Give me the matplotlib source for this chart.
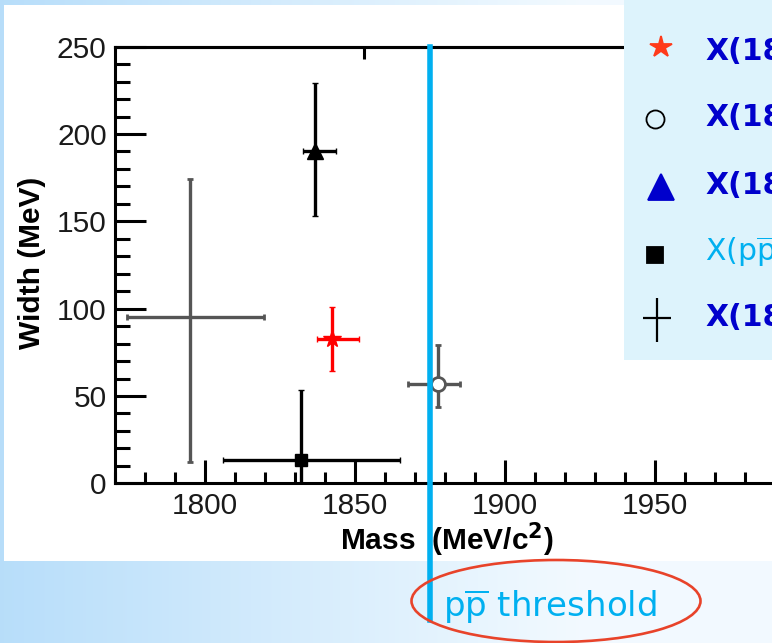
import numpy as np
import matplotlib.pyplot as plt
from matplotlib.patches import Ellipse, Rectangle
from matplotlib.ticker import MultipleLocator, NullLocator

plt.rcParams['font.family'] = ['Liberation Sans', 'DejaVu Sans']
plt.rcParams['mathtext.fontset'] = 'dejavusans'

W, H = 772, 643

# resonance measurements (MeV)
labels = ['X(1840)', 'X(1870)', 'X(1835)', r'X(p$\overline{\mathrm{p}}$)', 'X(1810)']
mass = [1842.2, 1877.5, 1836.5, 1832.0, 1795.0]
mass_lo = [5.0, 10.0, 4.0, 26.0, 21.0]
mass_hi = [9.0, 7.5, 7.0, 33.0, 24.5]
width = [82.5, 57.0, 190.0, 13.3, 95.0]
width_lo = [18.0, 13.5, 37.0, 13.3, 83.0]
width_hi = [18.5, 22.0, 39.0, 40.0, 79.0]
threshold = 1875.0

# styles
pt_color = ['red', '#555555', 'black', 'black', '#555555']
pt_face = ['red', 'white', 'black', 'black', '#555555']
pt_marker = ['*', 'o', '^', 's', '+']
pt_size = [13, 10, 12, 9, 10]

leg_marker = ['*', 'o', '^', 's']
leg_mcolor = ['#FF3A1A', 'none', '#0000CC', 'black']
leg_medge = ['#FF3A1A', 'black', '#0000CC', 'black']
leg_msize = [16, 13, 18.5, 12]
leg_mx = [661, 655, 661, 655]
leg_my = [47, 119, 187, 255]
leg_ty = [51, 117, 185, 252, 318]
leg_tcolor = ['#0000CC', '#0000CC', '#0000CC', '#00B0F0', '#0000CC']
leg_weight = ['bold', 'bold', 'bold', 'normal', 'bold']

fig = plt.figure(figsize=(W / 100, H / 100), dpi=100)

# slide background
bg = fig.add_axes([0, 0, 1, 1], zorder=-10)
t = np.clip(np.linspace(0, 1, W) / 0.75, 0, 1)[:, None]
left = np.array([0.72, 0.87, 0.98])
right = np.array([0.95, 0.98, 1.0])
row = left * (1 - t) + right * t
bg.imshow(np.tile(row[None, :, :], (H, 1, 1)), extent=[0, W, H, 0], aspect='auto')
bg.add_patch(Rectangle((4, 5), W - 4, 556, facecolor='white', edgecolor='none'))
bg.set_xlim(0, W)
bg.set_ylim(H, 0)
bg.axis('off')

# main plot
ax = fig.add_axes([115 / W, (H - 483.3) / H, 660 / W, 436.6 / H], zorder=1)
for i in range(len(mass)):
    ax.errorbar(mass[i], width[i],
                xerr=[[mass_lo[i]], [mass_hi[i]]],
                yerr=[[width_lo[i]], [width_hi[i]]],
                fmt=pt_marker[i], ms=pt_size[i], mfc=pt_face[i], mec=pt_color[i],
                mew=2 if pt_marker[i] in 'o+' else 1,
                ecolor=pt_color[i], elinewidth=2.4, capsize=2, capthick=2.4)

ax.axvline(threshold, ymin=-0.313, ymax=1, color='#00B0F0', lw=4, clip_on=False, zorder=3)

ax.set_xlim(1770, 1990)
ax.set_ylim(0, 250)
ax.xaxis.set_major_locator(MultipleLocator(50))
ax.xaxis.set_minor_locator(MultipleLocator(10))
ax.yaxis.set_major_locator(MultipleLocator(50))
ax.yaxis.set_minor_locator(MultipleLocator(10))
ax.tick_params(which='both', direction='in', width=2.2, top=False, right=False,
               labelsize=21.5, labelcolor='#1a1a1a', pad=6)
ax.tick_params(axis='y', which='major', length=22)
ax.tick_params(axis='y', which='minor', length=11)
ax.tick_params(axis='x', which='major', length=16.5)
ax.tick_params(axis='x', which='minor', length=8)
for s in ['left', 'top', 'bottom']:
    ax.spines[s].set_linewidth(2.2)
ax.spines['right'].set_visible(False)

sec = ax.secondary_xaxis('top')
sec.set_xticks([1853])
sec.xaxis.set_minor_locator(NullLocator())
sec.tick_params(direction='in', length=8.5, width=2.2, labeltop=False)
sec.spines['top'].set_linewidth(2.2)

ax.set_xlabel(r'Mass  (MeV/c$^{\mathbf{2}}$)', fontsize=21.5, fontweight='bold')
ax.xaxis.label.set_va('baseline')
ax.xaxis.set_label_coords(332 / 660, -0.1528)
ax.set_ylabel('Width (MeV)', fontsize=21.5, fontweight='bold')
ax.yaxis.set_label_coords(-69 / 660, 0.506)

# legend panel
lax = fig.add_axes([624 / W, 1 - 360 / H, 148 / W, 360 / H], zorder=5)
lax.set_xlim(624, 772)
lax.set_ylim(360, 0)
lax.set_facecolor('#DDF3FC')
lax.set_xticks([])
lax.set_yticks([])
for s in lax.spines.values():
    s.set_visible(False)
for i in range(len(leg_marker)):
    lax.plot(leg_mx[i], leg_my[i], marker=leg_marker[i], ms=leg_msize[i],
             mfc=leg_mcolor[i], mec=leg_medge[i], mew=1.3, ls='none')
lax.plot(657, 319.5, marker='|', ms=32, mec='black', mew=1.6, ls='none')
lax.plot(657, 318, marker='_', ms=20, mec='black', mew=1.6, ls='none')
for i in range(len(labels)):
    lax.text(705, leg_ty[i], labels[i], color=leg_tcolor[i], fontsize=21.5,
             family='DejaVu Sans', fontweight=leg_weight[i], va='center', ha='left')

# threshold annotation
fig.text(443 / W, 1 - 617 / H, r'p$\overline{\mathrm{p}}$ threshold', color='#00B0F0',
         fontsize=24.5, family='DejaVu Sans', va='baseline')
fig.add_artist(Ellipse((556 / W, 1 - 601 / H), 289 / W, 82 / H, transform=fig.transFigure,
                       fill=False, edgecolor='#E8432A', lw=1.9, zorder=10))

plt.savefig('out.png', dpi=100)
